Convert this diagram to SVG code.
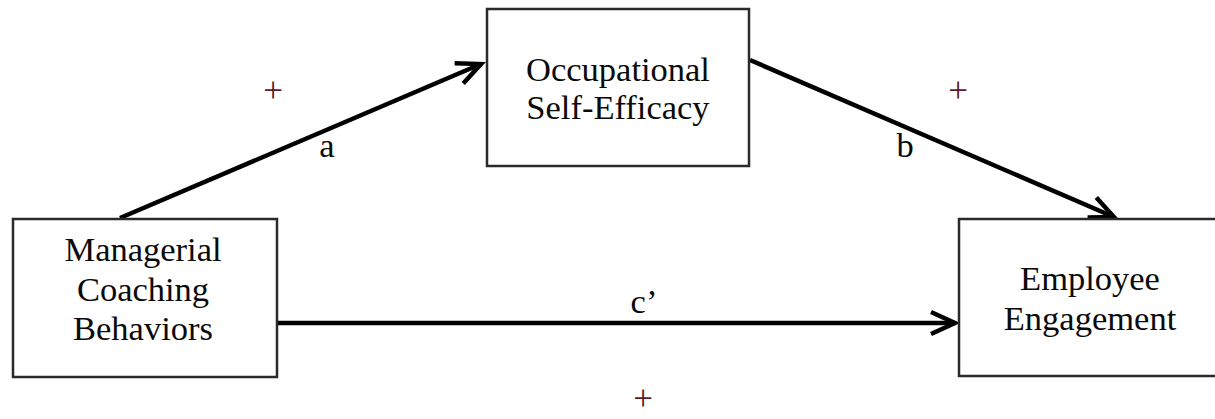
<svg xmlns="http://www.w3.org/2000/svg" width="1215" height="419" viewBox="0 0 1215 419">
<style>
.box{fill:#fff;stroke:#2a2a2a;stroke-width:2.5}
.t{font-family:"Liberation Serif","Times New Roman",serif;font-size:34.5px;fill:#0a0a0a;text-anchor:middle}
.plus{font-family:"Liberation Serif","Times New Roman",serif;font-size:35px;fill:#5a1a28;text-anchor:middle}
.arr{stroke:#000;stroke-width:4.5;fill:none;marker-end:url(#ah)}
</style>
<defs>
<marker id="ah" markerUnits="userSpaceOnUse" markerWidth="40" markerHeight="40" viewBox="-30 -20 40 40" refX="0" refY="0" orient="auto" overflow="visible">
<path d="M-24,-11 L0,0 L-24,11" fill="none" stroke="#000" stroke-width="4.5" stroke-linejoin="miter"/>
</marker>
</defs>
<rect width="1215" height="419" fill="#fff"/>
<g id="connectors">
<line class="arr" x1="120" y1="218" x2="481" y2="64"/>
<line class="arr" x1="750" y1="60" x2="1114" y2="217"/>
<line class="arr" x1="277" y1="323" x2="955" y2="323"/>
</g>
<g id="node-mcb">
<rect class="box" x="13" y="219" width="264" height="158"/>
<text class="t" x="143" y="261">Managerial</text>
<text class="t" x="143" y="301">Coaching</text>
<text class="t" x="143" y="340">Behaviors</text>
</g>
<g id="node-ose">
<rect class="box" x="487" y="9" width="262" height="157"/>
<text class="t" x="618" y="81">Occupational</text>
<text class="t" x="618" y="119">Self-Efficacy</text>
</g>
<g id="node-ee">
<rect class="box" x="959" y="219" width="262" height="157"/>
<text class="t" x="1090" y="290">Employee</text>
<text class="t" x="1090" y="330">Engagement</text>
</g>
<g id="labels">
<text class="plus" x="273" y="102">+</text>
<text class="t" x="327" y="157">a</text>
<text class="plus" x="958" y="102">+</text>
<text class="t" x="905" y="157">b</text>
<text class="t" x="644" y="313">c’</text>
<text class="plus" x="643" y="410">+</text>
</g>
</svg>
